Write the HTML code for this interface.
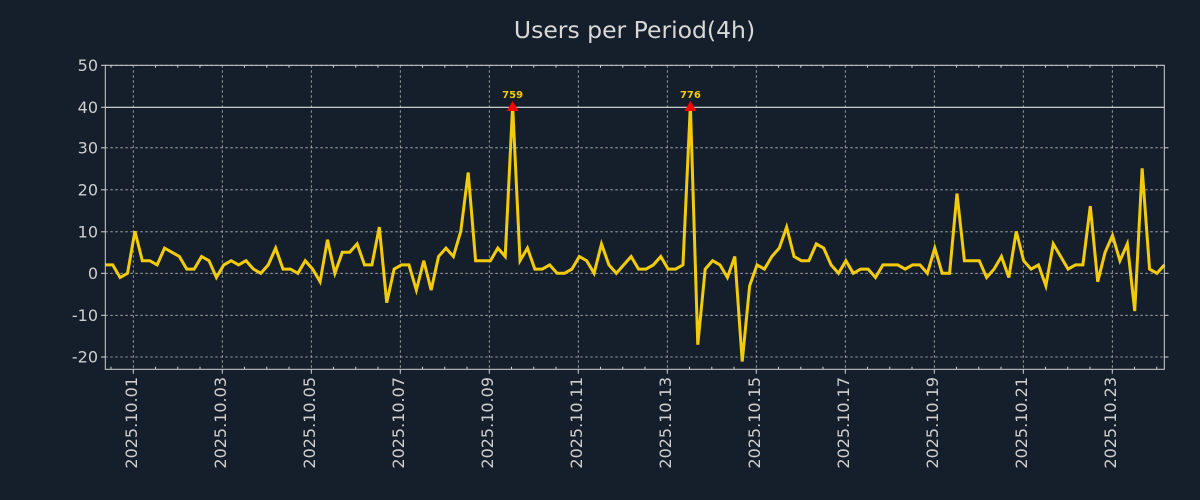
<!DOCTYPE html>
<html><head><meta charset="utf-8"><style>
html,body{margin:0;padding:0;background:#151f2c;}
svg{display:block;font-family:"DejaVu Sans","Liberation Sans",sans-serif;}
</style></head><body>
<svg width="1200" height="500" viewBox="0 0 1200 500" xmlns="http://www.w3.org/2000/svg">
<rect width="1200" height="500" fill="#151f2c"/>
<text x="634.5" y="38" font-size="23.5" fill="#d8d8d8" text-anchor="middle">Users per Period(4h)</text>
<g stroke="#b8b8b8" stroke-width="0.8" stroke-dasharray="2.5,2.5" fill="none">
<line x1="105.3" x2="1164.3" y1="65.3" y2="65.3"/>
<line x1="105.3" x2="1164.3" y1="147.8" y2="147.8"/>
<line x1="105.3" x2="1164.3" y1="189.8" y2="189.8"/>
<line x1="105.3" x2="1164.3" y1="231.8" y2="231.8"/>
<line x1="105.3" x2="1164.3" y1="273.3" y2="273.3"/>
<line x1="105.3" x2="1164.3" y1="315.3" y2="315.3"/>
<line x1="105.3" x2="1164.3" y1="357" y2="357"/>
<line y1="65.3" y2="369.3" x1="133.3" x2="133.3"/>
<line y1="65.3" y2="369.3" x1="222.3" x2="222.3"/>
<line y1="65.3" y2="369.3" x1="311.3" x2="311.3"/>
<line y1="65.3" y2="369.3" x1="400.3" x2="400.3"/>
<line y1="65.3" y2="369.3" x1="489.3" x2="489.3"/>
<line y1="65.3" y2="369.3" x1="578.3" x2="578.3"/>
<line y1="65.3" y2="369.3" x1="667.3" x2="667.3"/>
<line y1="65.3" y2="369.3" x1="756.3" x2="756.3"/>
<line y1="65.3" y2="369.3" x1="845.3" x2="845.3"/>
<line y1="65.3" y2="369.3" x1="934.3" x2="934.3"/>
<line y1="65.3" y2="369.3" x1="1023.3" x2="1023.3"/>
<line y1="65.3" y2="369.3" x1="1112.3" x2="1112.3"/>
</g>
<line x1="105.3" x2="1164.3" y1="107.3" y2="107.3" stroke="#e0e0e0" stroke-width="1.2"/>
<polyline fill="none" stroke="#f2cc0c" stroke-width="3" stroke-linejoin="miter" vector-effect="non-scaling-stroke" transform="translate(105.3,273.3) scale(7.406,-4.2)"
points="0,2 1,2 2,-1 3,0 4,10 5,3 6,3 7,2 8,6 9,5 10,4 11,1 12,1 13,4 14,3 15,-1 16,2 17,3 18,2 19,3 20,1 21,0 22,2 23,6 24,1 25,1 26,0 27,3 28,1 29,-2 30,8 31,0 32,5 33,5 34,7 35,2 36,2 37,11 38,-7 39,1 40,2 41,2 42,-4 43,3 44,-4 45,4 46,6 47,4 48,10 49,24 50,3 51,3 52,3 53,6 54,4 55,40 56,3 57,6 58,1 59,1 60,2 61,0 62,0 63,1 64,4 65,3 66,0 67,7 68,2 69,0 70,2 71,4 72,1 73,1 74,2 75,4 76,1 77,1 78,2 79,40 80,-17 81,1 82,3 83,2 84,-1 85,4 86,-21 87,-3 88,2 89,1 90,4 91,6 92,11 93,4 94,3 95,3 96,7 97,6 98,2 99,0 100,3 101,0 102,1 103,1 104,-1 105,2 106,2 107,2 108,1 109,2 110,2 111,0 112,6 113,0 114,0 115,19 116,3 117,3 118,3 119,-1 120,1 121,4 122,-1 123,10 124,3 125,1 126,2 127,-3 128,7 129,4 130,1 131,2 132,2 133,16 134,-2 135,5 136,9 137,3 138,7 139,-9 140,25 141,1 142,0 143,2"/>
<polygon points="512.6,101 506.6,111 518.6,111" fill="#ff0000"/>
<polygon points="690.4,101 684.4,111 696.4,111" fill="#ff0000"/>
<text x="512.6" y="98" font-size="10" font-weight="bold" fill="#f2cc0c" text-anchor="middle">759</text>
<text x="690.4" y="98" font-size="10" font-weight="bold" fill="#f2cc0c" text-anchor="middle">776</text>
<rect x="105.3" y="65.3" width="1059" height="304" fill="none" stroke="#d0d0d0" stroke-width="1"/>
<g stroke="#d0d0d0" stroke-width="1">
<line x1="101" x2="105.3" y1="65.3" y2="65.3"/><line x1="101" x2="105.3" y1="107.3" y2="107.3"/>
<line x1="101" x2="105.3" y1="147.8" y2="147.8"/><line x1="101" x2="105.3" y1="189.8" y2="189.8"/>
<line x1="101" x2="105.3" y1="231.8" y2="231.8"/><line x1="101" x2="105.3" y1="273.3" y2="273.3"/>
<line x1="101" x2="105.3" y1="315.3" y2="315.3"/><line x1="101" x2="105.3" y1="357" y2="357"/>
<line x1="1164.3" x2="1168.5" y1="147.8" y2="147.8"/><line x1="1164.3" x2="1168.5" y1="189.8" y2="189.8"/>
<line x1="1164.3" x2="1168.5" y1="231.8" y2="231.8"/><line x1="1164.3" x2="1168.5" y1="273.3" y2="273.3"/>
<line x1="1164.3" x2="1168.5" y1="315.3" y2="315.3"/><line x1="1164.3" x2="1168.5" y1="357" y2="357"/>
</g>
<g stroke="#d0d0d0" stroke-width="1">
<path d="M133.3 369.3v4.5M222.3 369.3v4.5M311.3 369.3v4.5M400.3 369.3v4.5M489.3 369.3v4.5M578.3 369.3v4.5M667.3 369.3v4.5M756.3 369.3v4.5M845.3 369.3v4.5M934.3 369.3v4.5M1023.3 369.3v4.5M1112.3 369.3v4.5"/>
<path d="M111 369.3v-2.5M155.5 369.3v-2.5M177.8 369.3v-2.5M200 369.3v-2.5M244.5 369.3v-2.5M266.8 369.3v-2.5M289 369.3v-2.5M333.5 369.3v-2.5M355.8 369.3v-2.5M378 369.3v-2.5M422.5 369.3v-2.5M444.8 369.3v-2.5M467 369.3v-2.5M511.5 369.3v-2.5M533.8 369.3v-2.5M556 369.3v-2.5M600.5 369.3v-2.5M622.8 369.3v-2.5M645 369.3v-2.5M689.5 369.3v-2.5M711.8 369.3v-2.5M734 369.3v-2.5M778.5 369.3v-2.5M800.8 369.3v-2.5M823 369.3v-2.5M867.5 369.3v-2.5M889.8 369.3v-2.5M912 369.3v-2.5M956.5 369.3v-2.5M978.8 369.3v-2.5M1001 369.3v-2.5M1045.5 369.3v-2.5M1067.8 369.3v-2.5M1090 369.3v-2.5M1134.5 369.3v-2.5M1156.8 369.3v-2.5"/>
<path d="M111 65.3v2.5M155.5 65.3v2.5M177.8 65.3v2.5M200 65.3v2.5M244.5 65.3v2.5M266.8 65.3v2.5M289 65.3v2.5M333.5 65.3v2.5M355.8 65.3v2.5M378 65.3v2.5M422.5 65.3v2.5M444.8 65.3v2.5M467 65.3v2.5M511.5 65.3v2.5M533.8 65.3v2.5M556 65.3v2.5M600.5 65.3v2.5M622.8 65.3v2.5M645 65.3v2.5M689.5 65.3v2.5M711.8 65.3v2.5M734 65.3v2.5M778.5 65.3v2.5M800.8 65.3v2.5M823 65.3v2.5M867.5 65.3v2.5M889.8 65.3v2.5M912 65.3v2.5M956.5 65.3v2.5M978.8 65.3v2.5M1001 65.3v2.5M1045.5 65.3v2.5M1067.8 65.3v2.5M1090 65.3v2.5M1134.5 65.3v2.5M1156.8 65.3v2.5"/>
</g>
<g font-size="16" fill="#cfcfcf" text-anchor="end">
<text x="98" y="70.8">50</text><text x="98" y="112.8">40</text><text x="98" y="153.3">30</text>
<text x="98" y="195.3">20</text><text x="98" y="237.3">10</text><text x="98" y="278.8">0</text>
<text x="98" y="320.8">-10</text><text x="98" y="362.5">-20</text>
</g>
<g font-size="16" fill="#cfcfcf" text-anchor="end">
<text transform="translate(137,377) rotate(-90)">2025.10.01</text>
<text transform="translate(226,377) rotate(-90)">2025.10.03</text>
<text transform="translate(315,377) rotate(-90)">2025.10.05</text>
<text transform="translate(404,377) rotate(-90)">2025.10.07</text>
<text transform="translate(493,377) rotate(-90)">2025.10.09</text>
<text transform="translate(582,377) rotate(-90)">2025.10.11</text>
<text transform="translate(671,377) rotate(-90)">2025.10.13</text>
<text transform="translate(760,377) rotate(-90)">2025.10.15</text>
<text transform="translate(849,377) rotate(-90)">2025.10.17</text>
<text transform="translate(938,377) rotate(-90)">2025.10.19</text>
<text transform="translate(1027,377) rotate(-90)">2025.10.21</text>
<text transform="translate(1116,377) rotate(-90)">2025.10.23</text>
</g>
</svg>
</body></html>
